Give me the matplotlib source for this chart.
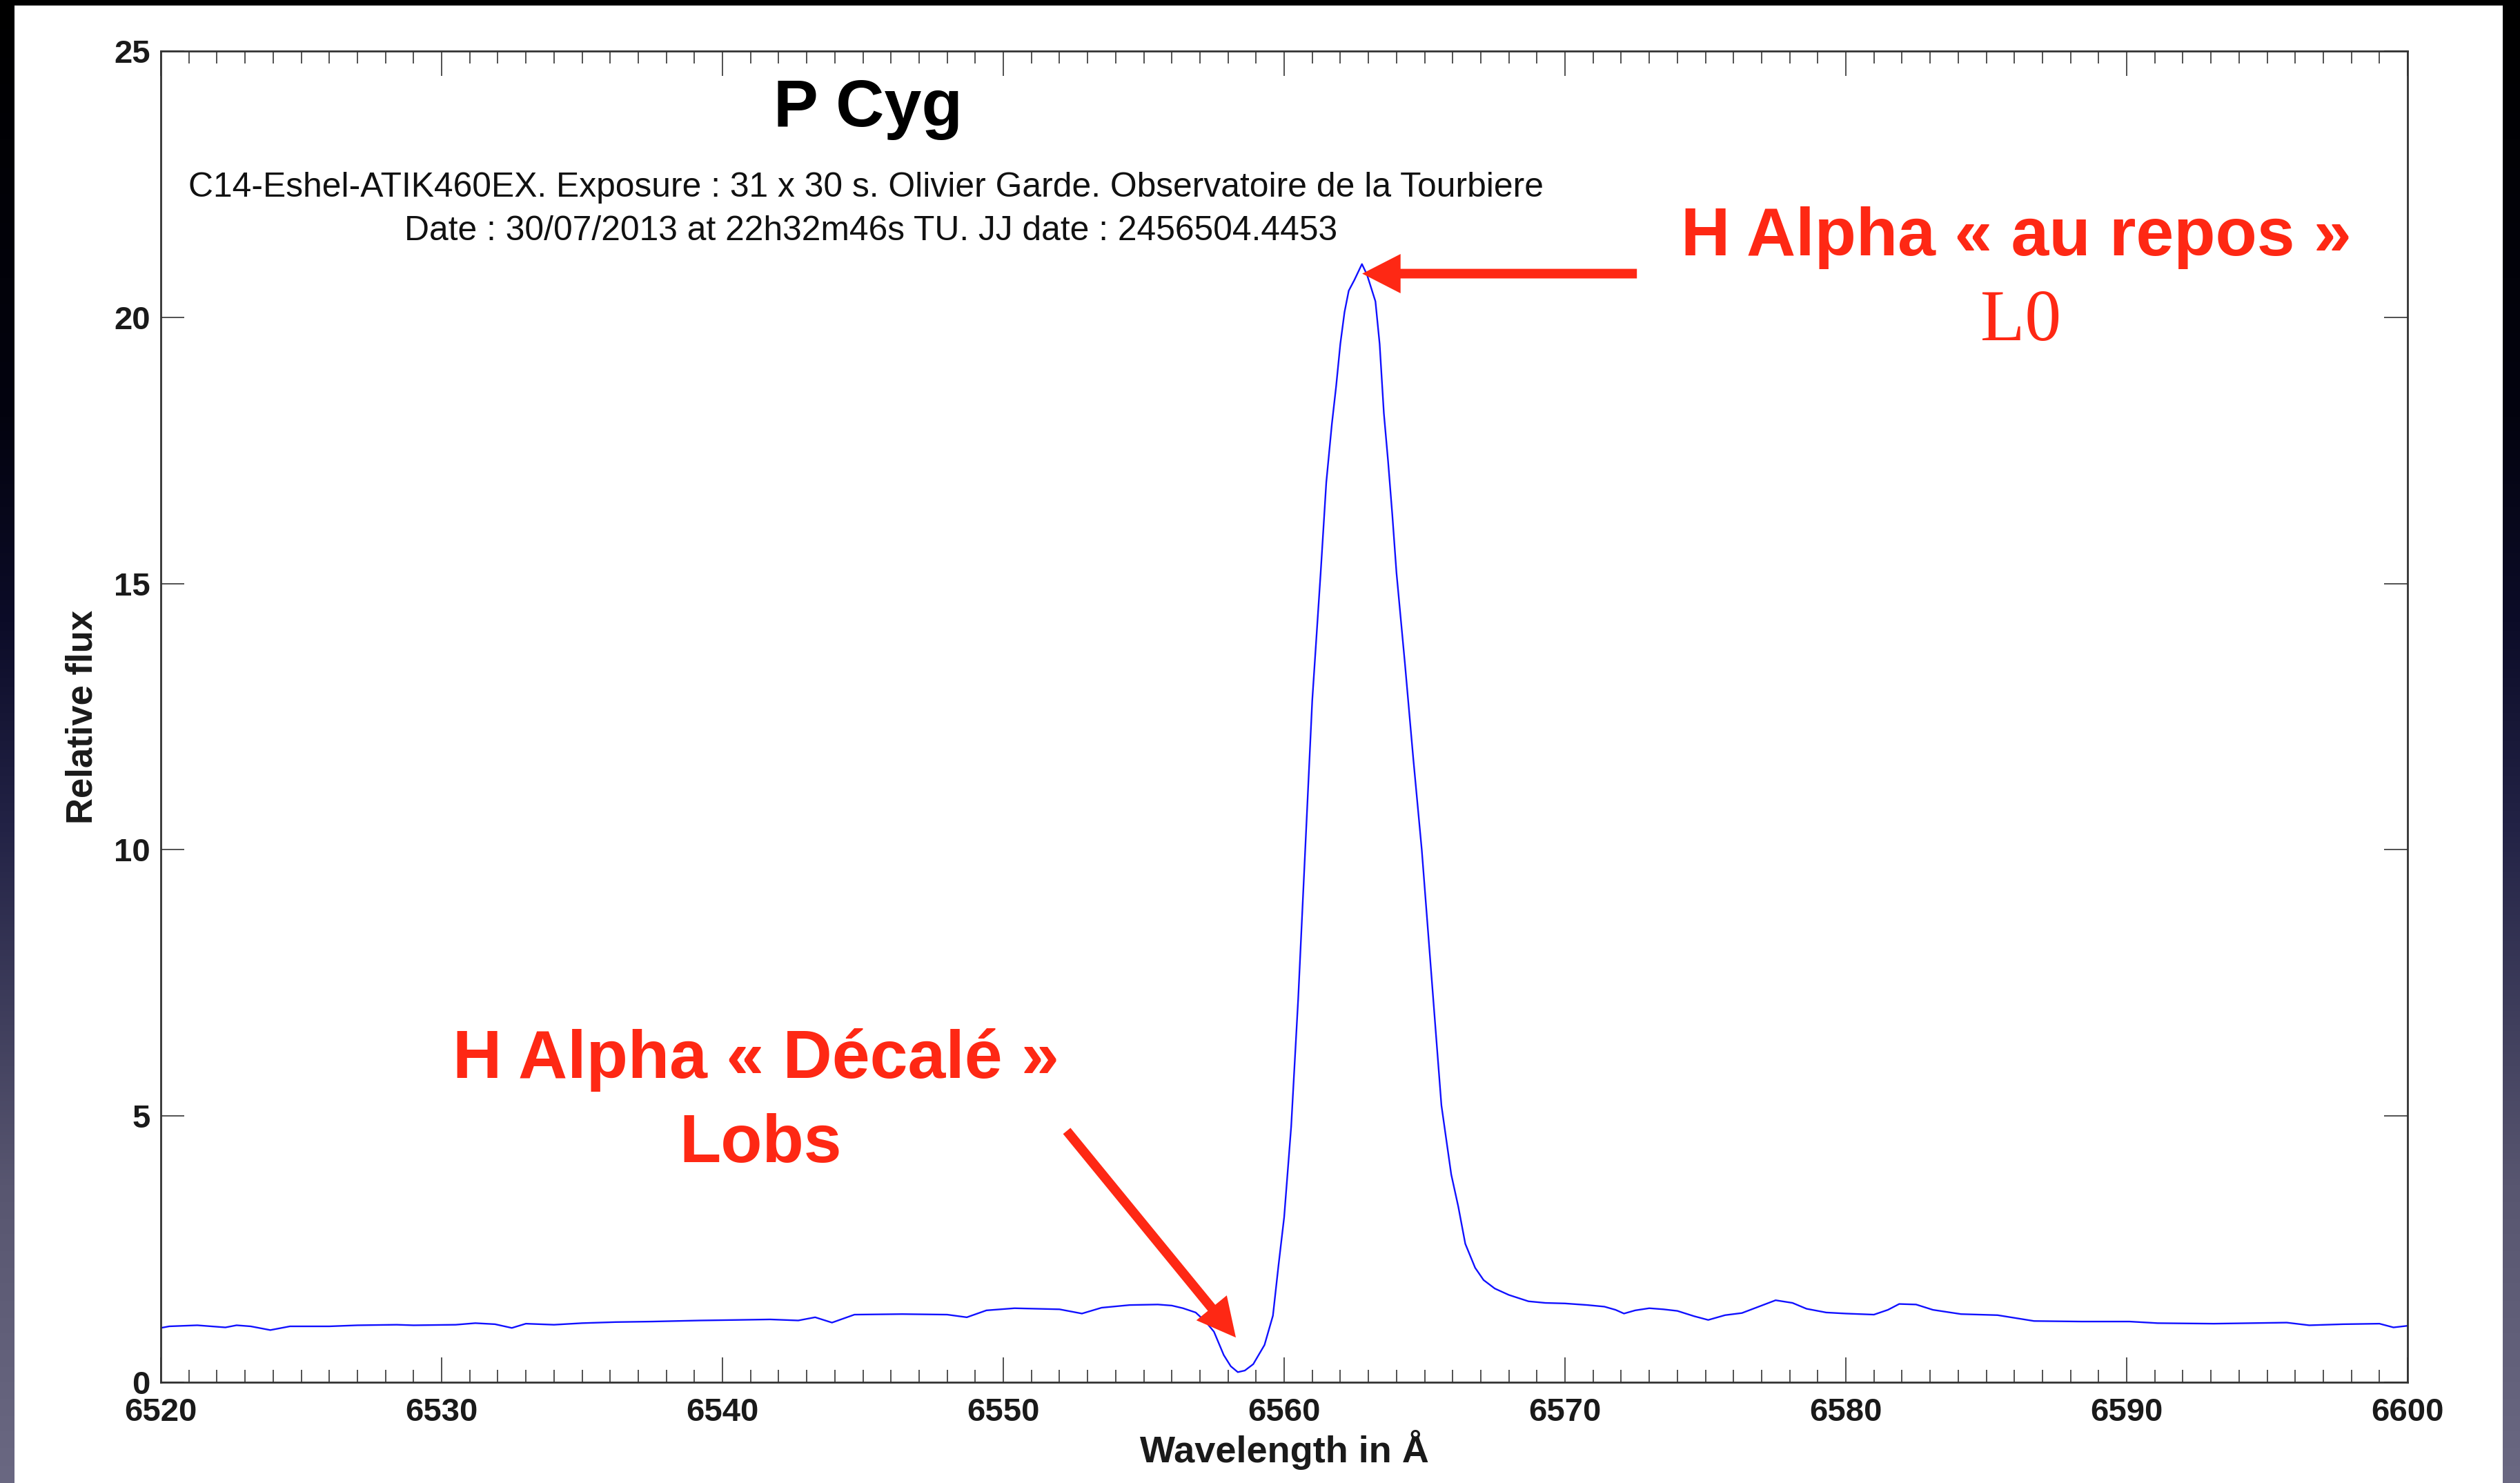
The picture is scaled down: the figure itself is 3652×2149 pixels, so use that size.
import numpy as np
import matplotlib
matplotlib.use("Agg")
import matplotlib.pyplot as plt
from matplotlib.patches import Rectangle

# P Cyg H-alpha profile (wavelength in Angstrom, relative flux)
wavelength = [6520.0, 6520.3, 6521.3, 6522.3, 6522.7, 6523.2, 6523.9, 6524.6, 6526.0, 6527.0,
              6528.4, 6529.0, 6530.5, 6531.2, 6531.9, 6532.5, 6533.0, 6534.0, 6535.0, 6536.2,
              6537.5, 6539.2, 6540.5, 6541.7, 6542.7, 6543.3, 6543.9, 6544.7, 6546.4, 6548.0,
              6548.7, 6549.4, 6550.4, 6552.0, 6552.8, 6553.5, 6554.5, 6555.5, 6556.0, 6556.4,
              6556.85, 6557.2, 6557.5, 6557.85, 6558.1, 6558.35, 6558.6, 6558.9, 6559.3, 6559.6,
              6559.8, 6560.0, 6560.25, 6560.5, 6560.75, 6561.0, 6561.3, 6561.5, 6561.7, 6561.85,
              6562.0, 6562.15, 6562.3, 6562.5, 6562.77, 6562.95, 6563.1, 6563.25, 6563.4, 6563.55,
              6563.7, 6563.85, 6564.0, 6564.3, 6564.6, 6564.9, 6565.25, 6565.6, 6565.95, 6566.2,
              6566.45, 6566.8, 6567.1, 6567.5, 6568.0, 6568.7, 6569.3, 6570.0, 6570.8, 6571.4,
              6571.8, 6572.1, 6572.5, 6573.0, 6573.5, 6574.0, 6574.6, 6575.1, 6575.7, 6576.3,
              6576.9, 6577.5, 6578.1, 6578.6, 6579.3, 6580.0, 6581.0, 6581.5, 6581.9, 6582.5,
              6583.1, 6584.1, 6585.4, 6586.7, 6588.4, 6590.1, 6591.1, 6593.1, 6595.7, 6596.5,
              6597.7, 6599.0, 6599.5, 6600.0]
flux = [1.02, 1.05, 1.07, 1.03, 1.07, 1.05, 0.98, 1.05, 1.05, 1.07,
        1.08, 1.07, 1.08, 1.11, 1.09, 1.02, 1.10, 1.08, 1.11, 1.13,
        1.14, 1.16, 1.17, 1.18, 1.16, 1.22, 1.12, 1.27, 1.28, 1.27,
        1.22, 1.35, 1.39, 1.37, 1.29, 1.40, 1.45, 1.46, 1.44, 1.39,
        1.31, 1.14, 0.95, 0.51, 0.30, 0.19, 0.22, 0.34, 0.70, 1.25,
        2.2, 3.1, 4.8, 7.2, 10.0, 12.8, 15.2, 16.9, 18.0, 18.7,
        19.5, 20.1, 20.5, 20.7, 21.0, 20.8, 20.55, 20.3, 19.5, 18.2,
        17.3, 16.3, 15.2, 13.5, 11.7, 10.0, 7.6, 5.2, 3.9, 3.3,
        2.6, 2.15, 1.92, 1.76, 1.64, 1.52, 1.49, 1.48, 1.45, 1.42,
        1.36, 1.29, 1.35, 1.39, 1.37, 1.34, 1.24, 1.17, 1.26, 1.30,
        1.42, 1.54, 1.49, 1.38, 1.31, 1.29, 1.27, 1.36, 1.47, 1.46,
        1.36, 1.28, 1.26, 1.15, 1.14, 1.14, 1.11, 1.10, 1.12, 1.07,
        1.09, 1.10, 1.03, 1.06]

x_major = [6520, 6530, 6540, 6550, 6560, 6570, 6580, 6590, 6600]
y_major = [0, 5, 10, 15, 20, 25]

title = "P Cyg"
subtitle_1 = "C14-Eshel-ATIK460EX. Exposure : 31 x 30 s. Olivier Garde. Observatoire de la Tourbiere"
subtitle_2 = "Date : 30/07/2013 at 22h32m46s TU. JJ date : 2456504.4453"
rest_label = "H Alpha « au repos »"
rest_symbol = "L0"
shift_label = "H Alpha « Décalé »"
shift_symbol = "Lobs"

RED = "#fe2814"
SANS = ["Liberation Sans", "DejaVu Sans"]
SERIF = ["Liberation Serif", "DejaVu Serif"]

W, H = 3652, 2149
fig = plt.figure(figsize=(W / 100, H / 100), dpi=100)

# slide background: vertical dark gradient
bg = fig.add_axes([0, 0, 1, 1], zorder=-10)
stops = np.array([0.0, 0.28, 0.42, 0.56, 0.80, 1.0])
cols = np.array([[0, 0, 0], [3, 3, 15], [12, 12, 40], [35, 35, 70],
                 [88, 86, 112], [106, 104, 130]]) / 255.0
t = np.linspace(0, 1, 512)
grad = np.stack([np.interp(t, stops, cols[:, k]) for k in range(3)], axis=-1)
bg.imshow(grad[:, None, :], aspect="auto", extent=[0, 1, 1, 0])
bg.set_axis_off()

# white plot panel
fig.patches.append(Rectangle((21 / W, 0), (3627 - 21) / W, (H - 8) / H,
                             transform=fig.transFigure, facecolor="white",
                             edgecolor="none", zorder=-5))

ax = fig.add_axes([233 / W, (H - 2003) / H, (3489 - 233) / W, (2003 - 74) / H])
ax.set_facecolor("none")
ax.plot(wavelength, flux, color="#1010ff", lw=1.7)
ax.set_xlim(6520, 6600)
ax.set_ylim(0, 25)

ax.set_xticks(x_major)
ax.set_xticks(np.arange(6520, 6601, 1), minor=True)
ax.set_yticks(y_major)
ax.tick_params(axis="both", which="both", direction="in", top=True, right=True,
               color="#222222", width=1.1)
ax.tick_params(axis="x", which="major", length=26, pad=16)
ax.tick_params(axis="x", which="minor", length=13)
ax.tick_params(axis="y", which="major", length=24.5, pad=11)
for lab in ax.get_xticklabels() + ax.get_yticklabels():
    lab.set_fontfamily(SANS)
    lab.set_fontweight("bold")
    lab.set_fontsize(34)
    lab.set_color("#1a1a1a")
for s in ax.spines.values():
    s.set_linewidth(2.0)
    s.set_color("#333333")

ax.set_xlabel("Wavelength in Å", family=SANS, weight="bold", fontsize=39,
              color="#1a1a1a", va="center")
ax.xaxis.set_label_coords(0.5, -0.051)
ax.set_ylabel("Relative flux", family=SANS, weight="bold", fontsize=38,
              color="#1a1a1a", va="center")
ax.yaxis.set_label_coords(-0.035, 0.5)

# headings
fig.text(1258 / W, 1 - 183 / H, title, family=SANS, weight="bold", fontsize=70,
         ha="center", va="baseline", color="black")
fig.text(1255 / W, 1 - 285 / H, subtitle_1, family=SANS, fontsize=35.8,
         ha="center", va="baseline", color="#111111")
fig.text(1262 / W, 1 - 348 / H, subtitle_2, family=SANS, fontsize=35.8,
         ha="center", va="baseline", color="#111111")

# line identifications
fig.text(2922 / W, 1 - 370 / H, rest_label, family=SANS, weight="bold", fontsize=71,
         ha="center", va="baseline", color=RED)
fig.text(2929 / W, 1 - 493 / H, rest_symbol, family=SERIF, fontsize=76,
         ha="center", va="baseline", color=RED)
fig.text(1095 / W, 1 - 1562 / H, shift_label, family=SANS, weight="bold", fontsize=71,
         ha="center", va="baseline", color=RED)
fig.text(1102 / W, 1 - 1684 / H, shift_symbol, family=SANS, weight="bold", fontsize=71,
         ha="center", va="baseline", color=RED)

arrow_style = "simple,head_length=40,head_width=41,tail_width=10"
ax.annotate("", xy=(6562.78, 20.82), xytext=(6572.56, 20.82),
            arrowprops=dict(arrowstyle=arrow_style, mutation_scale=1, fc=RED,
                            ec="none", shrinkA=0, shrinkB=0),
            annotation_clip=False)
ax.annotate("", xy=(6558.28, 0.84), xytext=(6552.26, 4.72),
            arrowprops=dict(arrowstyle=arrow_style, mutation_scale=1, fc=RED,
                            ec="none", shrinkA=0, shrinkB=0),
            annotation_clip=False)

fig.savefig("out.png", dpi=100)
